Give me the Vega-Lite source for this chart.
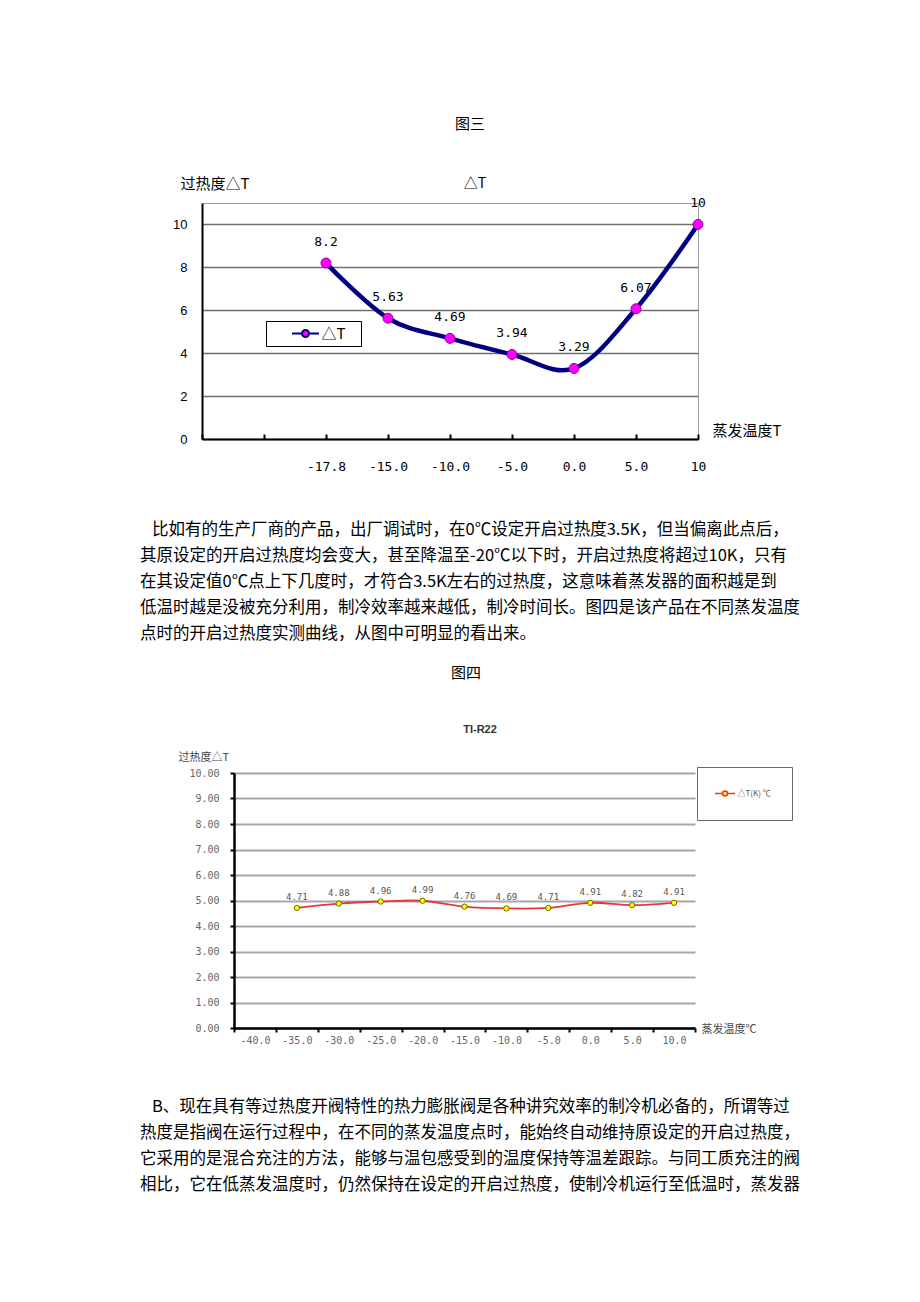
{
  "$schema": "https://vega.github.io/schema/vega-lite/v6.json",
  "background": "white",
  "padding": {"left": 140, "top": 116, "right": 10, "bottom": 10},
  "config": {
    "font": "Noto Sans CJK SC",
    "view": {"stroke": null},
    "title": {"fontWeight": "normal", "color": "#000000"}
  },
  "title": {"text": "图三", "anchor": "middle", "fontSize": 15, "offset": 43.7},
  "spacing": 0,
  "resolve": {"scale": {"color": "independent"}, "legend": {"color": "independent"}},
  "vconcat": [
    {
      "spacing": 0,
      "hconcat": [
        {"width": 32, "height": 318, "data": {"values": []}, "mark": "text"},
        {
          "width": 496,
          "height": 236,
          "view": {"stroke": "#a0a0a0", "strokeWidth": 1},
          "title": {"text": "△T", "fontSize": 14, "offset": -15, "dx": 25, "frame": "group", "anchor": "middle"},
          "data": {"values": [
            {"T": "-17.8", "dT": 8.2},
            {"T": "-15.0", "dT": 5.63},
            {"T": "-10.0", "dT": 4.69},
            {"T": "-5.0", "dT": 3.94},
            {"T": "0.0", "dT": 3.29},
            {"T": "5.0", "dT": 6.07},
            {"T": "10", "dT": 10}
          ]},
          "encoding": {
            "x": {
              "field": "T", "type": "nominal",
              "scale": {"type": "point", "domain": [" ", "  ", "-17.8", "-15.0", "-10.0", "-5.0", "0.0", "5.0", "10"], "padding": 0},
              "axis": {
                "title": "蒸发温度T", "titleX": 510, "titleY": -9, "titleAlign": "left", "titleBaseline": "middle",
                "titleFontSize": 15, "titleFontWeight": "normal", "titleColor": "#000000",
                "labelFont": "DejaVu Sans Mono", "labelFontSize": 13, "labelColor": "#000000", "labelAngle": 0,
                "labelOverlap": false, "labelPadding": 26,
                "domainColor": "#000000", "domainWidth": 2,
                "tickColor": "#000000", "tickWidth": 2, "tickSize": -5,
                "grid": false
              }
            },
            "y": {
              "field": "dT", "type": "quantitative",
              "scale": {"domain": [0, 11], "nice": false},
              "axis": {
                "values": [0, 2, 4, 6, 8, 10],
                "title": "过热度△T", "titleAngle": 0, "titleX": -22, "titleY": -20, "titleAlign": "left", "titleBaseline": "middle",
                "titleFontSize": 15, "titleFontWeight": "normal", "titleColor": "#000000",
                "labelFont": "Liberation Sans", "labelFontSize": 13, "labelColor": "#000000", "labelPadding": 15,
                "labelFlush": false, "labelOverlap": false,
                "ticks": false,
                "domainColor": "#000000", "domainWidth": 2,
                "grid": true, "gridColor": "#707070", "gridWidth": 1.5
              }
            }
          },
          "layer": [
            {"mark": {"type": "line", "interpolate": "cardinal", "color": "#000080", "strokeWidth": 4.5}},
            {"mark": {"type": "point", "filled": true, "fill": "#ff00ff", "stroke": "#990099", "strokeWidth": 1, "size": 100, "opacity": 1}},
            {
              "mark": {"type": "text", "dy": -21, "font": "DejaVu Sans Mono", "fontSize": 13, "baseline": "middle", "color": "#000000"},
              "encoding": {"text": {"field": "dT", "type": "nominal"}}
            },
            {
              "data": {"values": []},
              "mark": {"type": "point", "filled": true, "stroke": "#000080", "strokeWidth": 2, "opacity": 1},
              "encoding": {
                "color": {
                  "datum": "△T",
                  "scale": {"domain": ["△T"], "range": ["#ff00ff"]},
                  "legend": {
                    "title": null, "orient": "none", "legendX": 126, "legendY": 118,
                    "symbolType": "M-2,0H-0.52A0.52,0.52,0,1,1,0.52,0A0.52,0.52,0,1,1,-0.52,0M0.52,0H2",
                    "symbolSize": 182, "symbolStrokeWidth": 2, "symbolOffset": 27, "labelOffset": 8,
                    "padding": 4.5, "labelFontSize": 15, "labelColor": "#000000",
                    "strokeColor": "#000000", "fillColor": "#ffffff",
                    "labelExpr": "datum.label + '\u2800'"
                  }
                }
              }
            }
          ]
        }
      ]
    },
    {
      "width": 643, "height": 24,
      "data": {"values": []}, "mark": "text",
      "title": {
        "text": [
          "\u2800比如有的生产厂商的产品，出厂调试时，在0℃设定开启过热度3.5K，但当偏离此点后，",
          "其原设定的开启过热度均会变大，甚至降温至-20℃以下时，开启过热度将超过10K，只有",
          "在其设定值0℃点上下几度时，才符合3.5K左右的过热度，这意味着蒸发器的面积越是到",
          "低温时越是没被充分利用，制冷效率越来越低，制冷时间长。图四是该产品在不同蒸发温度",
          "点时的开启过热度实测曲线，从图中可明显的看出来。"
        ],
        "anchor": "start", "frame": "group", "fontSize": 16.5, "lineHeight": 26, "offset": 0
      }
    },
    {
      "width": 643, "height": 42,
      "data": {"values": []}, "mark": "text",
      "title": {"text": "图四", "anchor": "middle", "fontSize": 15, "offset": 0, "dx": 4.5}
    },
    {
      "spacing": 0,
      "hconcat": [
        {"width": 38, "height": 325, "data": {"values": []}, "mark": "text"},
        {
          "width": 461,
          "height": 255,
          "title": {"text": "TI-R22", "font": "Liberation Sans", "fontSize": 11, "fontWeight": "bold", "color": "#333333", "offset": 16.2, "dx": 15.5, "frame": "group", "anchor": "middle"},
          "data": {"values": [
            {"T": "-35.0", "dT": 4.71},
            {"T": "-30.0", "dT": 4.88},
            {"T": "-25.0", "dT": 4.96},
            {"T": "-20.0", "dT": 4.99},
            {"T": "-15.0", "dT": 4.76},
            {"T": "-10.0", "dT": 4.69},
            {"T": "-5.0", "dT": 4.71},
            {"T": "0.0", "dT": 4.91},
            {"T": "5.0", "dT": 4.82},
            {"T": "10.0", "dT": 4.91}
          ]},
          "encoding": {
            "x": {
              "field": "T", "type": "nominal",
              "scale": {"type": "band", "domain": ["-40.0", "-35.0", "-30.0", "-25.0", "-20.0", "-15.0", "-10.0", "-5.0", "0.0", "5.0", "10.0"], "paddingInner": 0, "paddingOuter": 0},
              "axis": {
                "tickBand": "extent",
                "title": "蒸发温度℃", "titleX": 467, "titleY": 1, "titleAlign": "left", "titleBaseline": "middle",
                "titleFontSize": 11, "titleFontWeight": "normal", "titleColor": "#444444",
                "labelFont": "DejaVu Sans Mono", "labelFontSize": 10, "labelColor": "#666666", "labelAngle": 0,
                "labelOverlap": false, "labelPadding": 3,
                "domainColor": "#000000", "domainWidth": 2.5,
                "tickColor": "#000000", "tickWidth": 2, "tickSize": 4,
                "grid": false
              }
            },
            "y": {
              "field": "dT", "type": "quantitative",
              "scale": {"domain": [0, 10], "nice": false},
              "axis": {
                "values": [0, 1, 2, 3, 4, 5, 6, 7, 8, 9, 10],
                "format": ".2f",
                "title": "过热度△T", "titleAngle": 0, "titleX": -56, "titleY": -16, "titleAlign": "left", "titleBaseline": "middle",
                "titleFontSize": 11, "titleFontWeight": "normal", "titleColor": "#444444",
                "labelFont": "DejaVu Sans Mono", "labelFontSize": 10, "labelColor": "#666666", "labelPadding": 11,
                "labelFlush": false, "labelOverlap": false,
                "tickColor": "#000000", "tickWidth": 2, "tickSize": 4,
                "domainColor": "#000000", "domainWidth": 2.5,
                "grid": true, "gridColor": "#a8a6ac", "gridWidth": 2
              }
            }
          },
          "layer": [
            {"mark": {"type": "line", "interpolate": "cardinal", "color": "#e23a3a", "strokeWidth": 1.8}},
            {"mark": {"type": "point", "filled": true, "fill": "#ffff00", "stroke": "#6b6b00", "strokeWidth": 1, "size": 28, "opacity": 1}},
            {
              "mark": {"type": "text", "dy": -11, "font": "DejaVu Sans Mono", "fontSize": 9, "baseline": "middle", "color": "#555555"},
              "encoding": {"text": {"field": "dT", "type": "nominal"}}
            },
            {
              "data": {"values": []},
              "mark": {"type": "point", "filled": true, "stroke": "#e23a3a", "strokeWidth": 1.5, "opacity": 1},
              "encoding": {
                "color": {
                  "datum": "△T(K) ℃",
                  "scale": {"domain": ["△T(K) ℃"], "range": ["#ffff00"]},
                  "legend": {
                    "title": null, "orient": "none", "legendX": 557, "legendY": -6,
                    "symbolType": "M-2,0H-0.5A0.5,0.5,0,1,1,0.5,0A0.5,0.5,0,1,1,-0.5,0M0.5,0H2",
                    "symbolSize": 100, "symbolStrokeWidth": 1.5, "symbolOffset": 1.5, "labelOffset": 6.5,
                    "padding": 20.5, "labelFontSize": 8, "labelColor": "#555555",
                    "strokeColor": "#666666", "fillColor": "#ffffff"
                  }
                }
              }
            }
          ]
        }
      ]
    },
    {
      "width": 643, "height": 5,
      "data": {"values": []}, "mark": "text",
      "title": {
        "text": [
          "\u2800B、现在具有等过热度开阀特性的热力膨胀阀是各种讲究效率的制冷机必备的，所谓等过",
          "热度是指阀在运行过程中，在不同的蒸发温度点时，能始终自动维持原设定的开启过热度，",
          "它采用的是混合充注的方法，能够与温包感受到的温度保持等温差跟踪。与同工质充注的阀",
          "相比，它在低蒸发温度时，仍然保持在设定的开启过热度，使制冷机运行至低温时，蒸发器"
        ],
        "anchor": "start", "frame": "group", "fontSize": 16.5, "lineHeight": 26, "offset": 0
      }
    }
  ]
}
